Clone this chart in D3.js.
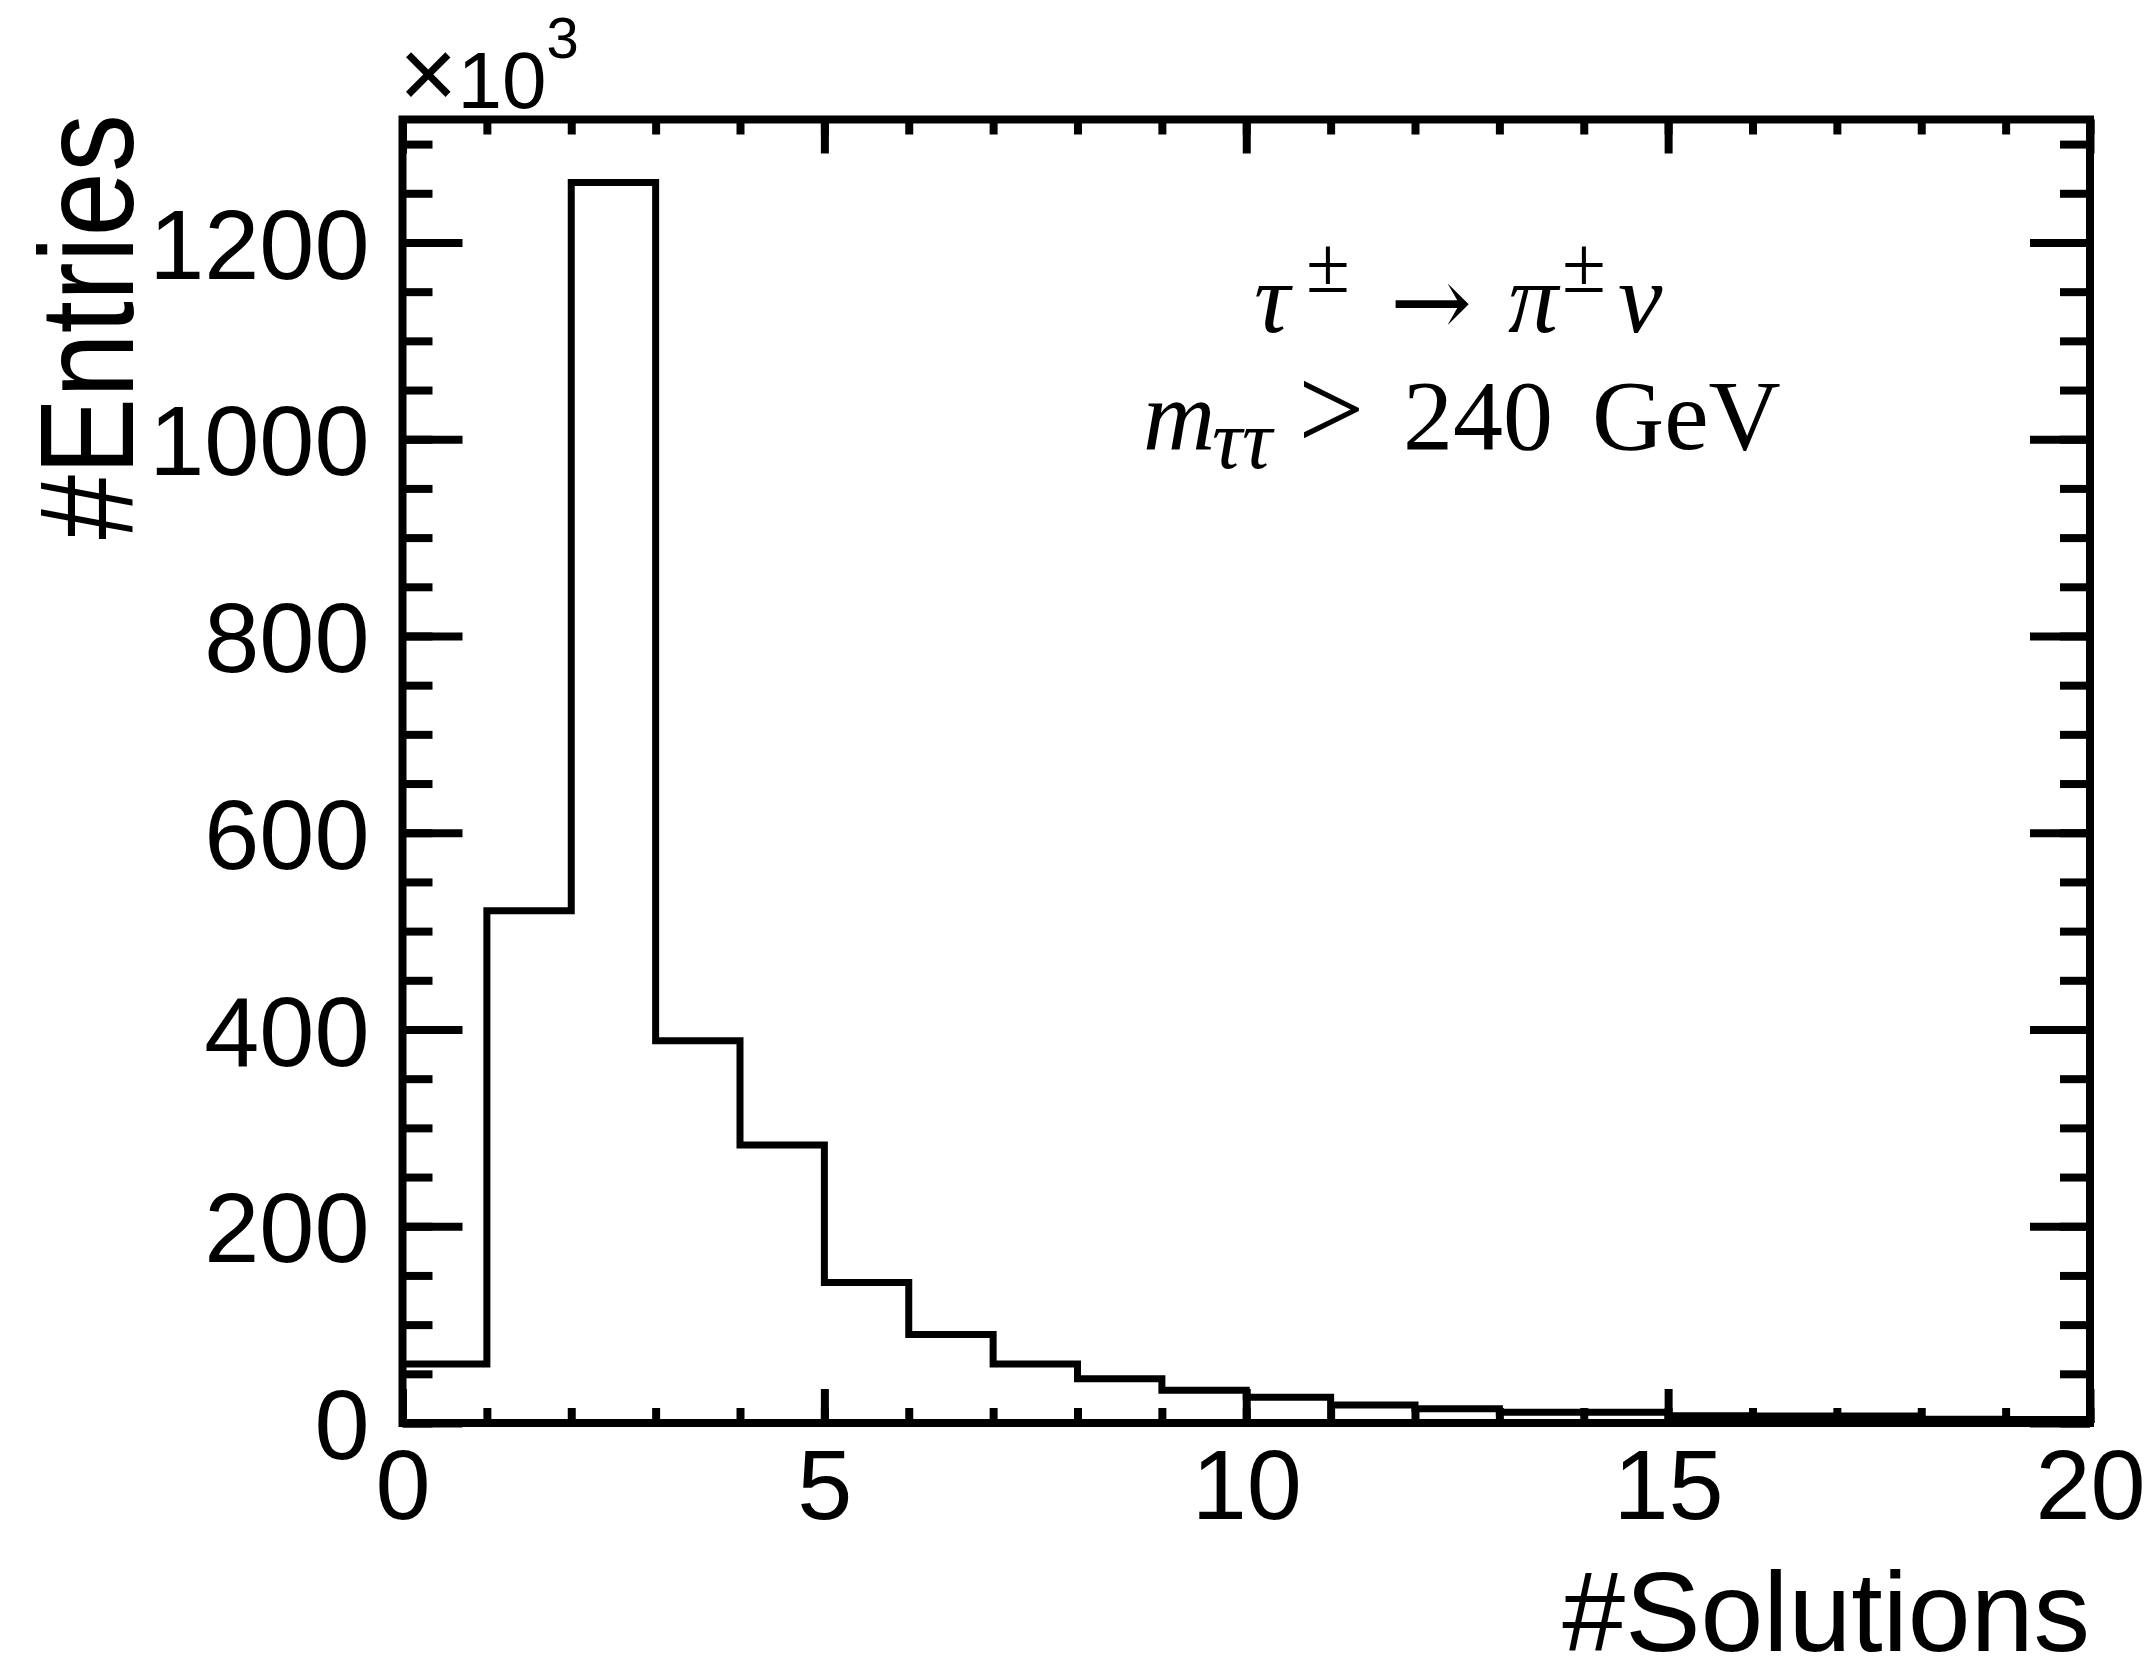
<!DOCTYPE html>
<html>
<head>
<meta charset="utf-8">
<script src="https://cdn.jsdelivr.net/npm/d3@7"></script>
<style>
  body { margin: 0; background: #fff; }
  svg { display: block; }
</style>
</head>
<body>
<div id="chart"></div>
<script>
// bin low edges (#Solutions), unit bins
const solutions = [0, 1, 2, 3, 4, 5, 6, 7, 8, 9, 10, 11, 12, 13, 14, 15, 16, 17, 18, 19];
// entries per bin, in units of 10^3
const entries = [60, 520.6, 1261, 388.6, 282.5, 142.8, 90, 60, 45, 33.4, 26.2, 18.3, 14.4, 10.9, 10.9, 7.3, 7.2, 7.0, 3.7, 3.5];
const binWidth = 1;

const xTickLabels = [0, 5, 10, 15, 20];
const yTickLabels = [0, 200, 400, 600, 800, 1000, 1200];
const xMax = 20;
const yMax = 1325;

const annotation1 = ["τ", "±", "→", "π", "±", "ν"];
const annotation2 = ["m", "ττ", ">", "240", "GeV"];

let dim = { width: 2152, height: 1678 };
let frame = { left: 402.5, right: 2090, top: 119.5, bottom: 1423 };
const lw = 8;

const sans = "'Liberation Sans', Arial, Helvetica, sans-serif";
const serif = "'Liberation Serif', 'Times New Roman', Times, serif";

let svg = d3.select("#chart").append("svg")
  .attr("width", dim.width)
  .attr("height", dim.height)
  .style("background", "#fff");

let x = d3.scaleLinear().domain([0, xMax]).range([frame.left, frame.right]);
let y = d3.scaleLinear().domain([0, yMax]).range([frame.bottom, frame.top]);

// histogram outline, starts and ends on the baseline
let pts = [[solutions[0], 0]];
solutions.forEach((s, i) => {
  pts.push([s, entries[i]]);
  pts.push([s + binWidth, entries[i]]);
});
pts.push([solutions[solutions.length - 1] + binWidth, 0]);

const line = d3.line()
  .x((d) => x(d[0]))
  .y((d) => y(d[1]));

svg.append("path")
  .datum(pts)
  .attr("fill", "none")
  .attr("stroke", "black")
  .attr("stroke-width", lw - 1)
  .attr("stroke-linejoin", "miter")
  .attr("d", line);

// ticks on all four sides
function ticks(axis, tx, ty) {
  return svg.append("g")
    .attr("transform", `translate(${tx},${ty})`)
    .attr("stroke-width", lw)
    .call(axis)
    .call((g) => g.select(".domain").remove());
}

const xMinor = x.ticks(20);
const yMinor = d3.range(0, yMax, 50);

ticks(d3.axisBottom(x).tickValues(xMinor).tickSize(-15).tickFormat(""), 0, y(0));
ticks(d3.axisTop(x).tickValues(xMinor).tickSize(-15).tickFormat(""), 0, y(yMax));
ticks(d3.axisLeft(y).tickValues(yMinor).tickSize(-30).tickFormat(""), x(0), 0);
ticks(d3.axisRight(y).tickValues(yMinor).tickSize(-30).tickFormat(""), x(xMax), 0);

let xAxis = ticks(d3.axisBottom(x).tickValues(xTickLabels).tickSize(-34).tickFormat(d3.format("d")), 0, y(0));
ticks(d3.axisTop(x).tickValues(xTickLabels).tickSize(-34).tickFormat(""), 0, y(yMax));
let yAxis = ticks(d3.axisLeft(y).tickValues(yTickLabels).tickSize(-60).tickFormat(d3.format("d")), x(0), 0);
ticks(d3.axisRight(y).tickValues(yTickLabels).tickSize(-60).tickFormat(""), x(xMax), 0);

xAxis.attr("font-family", sans).attr("font-size", 99);
xAxis.selectAll(".tick text")
  .attr("y", 96)
  .attr("dy", null)
  .attr("stroke", "none");

yAxis.attr("font-family", sans).attr("font-size", 99);
yAxis.selectAll(".tick text")
  .attr("x", -33)
  .attr("dy", "0.36em")
  .attr("stroke", "none");

// frame
svg.append("rect")
  .attr("x", x(0))
  .attr("y", y(yMax))
  .attr("width", x(xMax) - x(0))
  .attr("height", y(0) - y(yMax))
  .attr("fill", "none")
  .attr("stroke", "black")
  .attr("stroke-width", lw);

// x10^3 exponent
let expo = svg.append("text")
  .attr("x", 399)
  .attr("y", 108)
  .attr("font-family", sans);
expo.append("tspan").attr("font-size", 100).text("×");
expo.append("tspan").attr("font-size", 80).text("10");
expo.append("tspan")
  .attr("y", 58)
  .attr("font-size", 58)
  .text("3");

// axis titles
svg.append("text")
  .attr("x", frame.right)
  .attr("y", 1651)
  .attr("text-anchor", "end")
  .attr("font-family", sans)
  .attr("font-size", 113)
  .text("#Solutions");

svg.append("text")
  .attr("transform", "translate(133,114) rotate(-90) scale(1,1.15)")
  .attr("text-anchor", "end")
  .attr("font-family", sans)
  .attr("font-size", 116)
  .text("#Entries");

// decay label
let t1 = svg.append("text")
  .attr("y", 332)
  .attr("font-family", serif)
  .attr("font-size", 100);
t1.append("tspan").attr("x", 1254).attr("font-style", "italic").text(annotation1[0]);
t1.append("tspan").attr("x", 1306).attr("y", 292).attr("font-size", 80).text(annotation1[1]);
t1.append("tspan").attr("x", 1390).attr("y", 336).attr("font-family", "'DejaVu Serif', serif").attr("font-size", 98).text(annotation1[2]);
t1.append("tspan").attr("x", 1508).attr("y", 332).attr("font-style", "italic").text(annotation1[3]);
t1.append("tspan").attr("x", 1562).attr("y", 292).attr("font-size", 80).text(annotation1[4]);
t1.append("tspan").attr("x", 1618).attr("y", 332).attr("font-style", "italic").text(annotation1[5]);

let t2 = svg.append("text")
  .attr("y", 449)
  .attr("font-family", serif)
  .attr("font-size", 100);
t2.append("tspan").attr("x", 1143).attr("font-style", "italic").text(annotation2[0]);
t2.append("tspan").attr("x", 1212).attr("y", 468).attr("font-size", 84).attr("font-style", "italic").text(annotation2[1]);
t2.append("tspan").attr("x", 1298).attr("y", 449).attr("font-size", 118).text(annotation2[2]);
t2.append("tspan").attr("x", 1403).attr("y", 449).text(annotation2[3]);
t2.append("tspan").attr("x", 1592).attr("y", 449).text(annotation2[4]);
</script>
</body>
</html>
